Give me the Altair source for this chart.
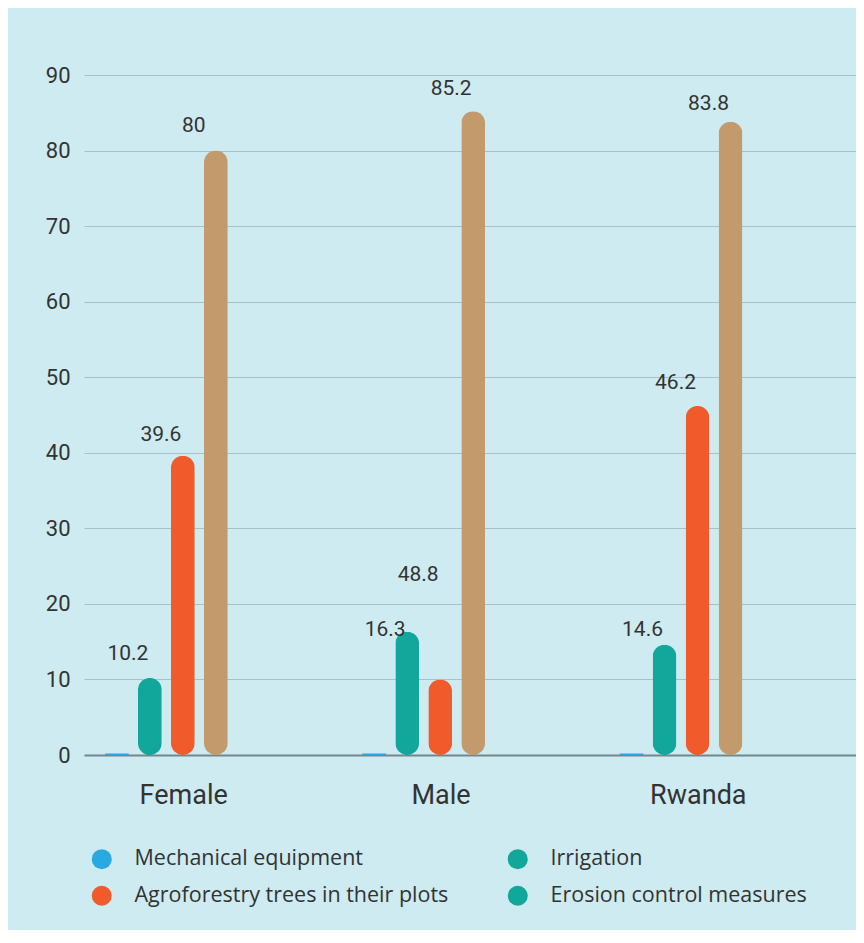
import altair as alt
import pandas as pd

# ---------------- data ----------------
groups = ["Female", "Male", "Rwanda"]
series = [
    "Mechanical equipment",
    "Irrigation",
    "Agroforestry trees in their plots",
    "Erosion control measures",
]
mechanical = [0.2, 0.2, 0.2]
irrigation = [10.2, 16.3, 14.6]
agroforestry = [39.6, 10.0, 46.2]
erosion = [80.0, 85.2, 83.8]

label_series = ["Irrigation", "Agroforestry trees in their plots", "Erosion control measures"]
label_text = [["10.2", "39.6", "80"], ["16.3", "48.8", "85.2"], ["14.6", "46.2", "83.8"]]
label_height = [[12.6, 41.5, 82.5], [15.8, 23.0, 87.4], [15.8, 48.5, 85.4]]

y_ticks = [0, 10, 20, 30, 40, 50, 60, 70, 80, 90]

bar_colors = ["#29a9e1", "#12a79b", "#f15a2b", "#c39a6b"]
legend_colors = ["#29a9e1", "#12a79b", "#f15a2b", "#12a79b"]
spacers = [" ", "  ", "   "]

# ---------------- tables ----------------
rows = []
for gi, g in enumerate(groups):
    for s, vals in zip(series, [mechanical, irrigation, agroforestry, erosion]):
        rows.append({"group": g, "series": s, "value": vals[gi]})
bars = pd.DataFrame(rows)

lrows = []
for gi, g in enumerate(groups):
    for si, s in enumerate(label_series):
        lrows.append({"group": g, "series": s, "label": label_text[gi][si],
                      "pos": label_height[gi][si]})
labels = pd.DataFrame(lrows)

legend_df = pd.DataFrame({"group": [groups[0]] * 4, "key": series, "value": [0] * 4})

FONT = "Roboto"
LFONT = "Open Sans"
TXT = "#333333"

x_enc = alt.X(
    "group:N",
    scale=alt.Scale(domain=groups, paddingInner=0, paddingOuter=0),
    axis=alt.Axis(title=None, labelAngle=0, ticks=False, domain=True,
                  domainColor="#74858b", domainWidth=2, labelFont=FONT,
                  labelFontSize=27, labelColor=TXT, labelPadding=27, labelOffset=-29,
                  grid=False),
)
xo_enc = alt.XOffset(
    "series:N",
    scale=alt.Scale(domain=series + spacers, paddingInner=0.28,
                    paddingOuter=0.539, align=0.59),
)
y_enc = alt.Y(
    "value:Q",
    scale=alt.Scale(domain=[0, 90], nice=False),
    axis=alt.Axis(title=None, values=y_ticks, ticks=False, domain=False,
                  gridColor="#a7c1c7", gridWidth=1, labelFont=FONT,
                  labelFontSize=22, labelColor=TXT, labelPadding=14),
)
fill_enc = alt.Fill("series:N", scale=alt.Scale(domain=series, range=bar_colors), legend=None)

base = alt.Chart(bars)

mech_layer = base.transform_filter(
    alt.datum.series == series[0]
).mark_bar(cornerRadius=0).encode(x=x_enc, xOffset=xo_enc, y=y_enc, fill=fill_enc)

bar_layer = base.transform_filter(
    alt.datum.series != series[0]
).mark_bar(cornerRadius=12).encode(x=x_enc, xOffset=xo_enc, y=y_enc, fill=fill_enc)

text_layer = alt.Chart(labels).mark_text(
    font=FONT, fontSize=21, color=TXT, baseline="alphabetic", dx=-22
).encode(
    x=alt.X("group:N"),
    xOffset=alt.XOffset("series:N"),
    y=alt.Y("pos:Q"),
    text="label:N",
)

legend_layer = alt.Chart(legend_df).mark_point(filled=True, opacity=0).encode(
    x=alt.X("group:N"),
    y=alt.Y("value:Q"),
    color=alt.Color(
        "key:N",
        scale=alt.Scale(domain=series, range=legend_colors),
        legend=alt.Legend(
            title=None, orient="none", legendX=7, legendY=773, columns=2,
            direction="horizontal",
            symbolType="circle", symbolSize=400, symbolOpacity=1,
            symbolStrokeWidth=0, labelFont=LFONT, labelFontSize=21.5,
            labelColor=TXT, labelOffset=22, rowPadding=14, columnPadding=58,
            padding=0, labelLimit=600,
        ),
    ),
)

chart = alt.layer(mech_layer, bar_layer, text_layer, legend_layer).resolve_scale(
    color="independent", fill="independent"
).properties(
    width=772,
    height=680,
    autosize=alt.AutoSizeParams(type="none"),
    padding={"left": 76, "top": 67, "right": 0, "bottom": 175},
    background="#cdebf0",
).configure_view(stroke=None)

chart.save("out.html", embed_options={"renderer": "svg", "actions": False})
